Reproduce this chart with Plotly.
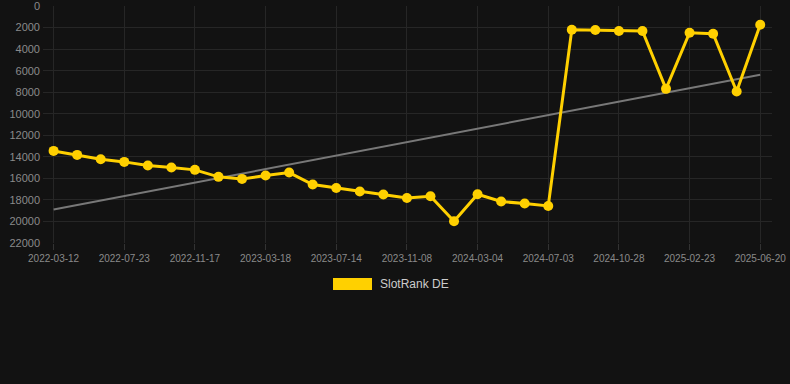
import numpy as np
import plotly.graph_objects as go

dates = [
    "2022-03-12", "2022-04-26", "2022-06-08",
    "2022-07-23", "2022-09-01", "2022-10-09",
    "2022-11-17", "2022-12-28", "2023-02-05",
    "2023-03-18", "2023-04-27", "2023-06-04",
    "2023-07-14", "2023-08-22", "2023-09-30",
    "2023-11-08", "2023-12-17", "2024-01-25",
    "2024-03-04", "2024-04-13", "2024-05-23",
    "2024-07-03", "2024-08-11", "2024-09-19",
    "2024-10-28", "2024-12-06", "2025-01-14",
    "2025-02-23", "2025-04-03", "2025-05-12",
    "2025-06-20",
]
ranks = [
    13450, 13820, 14220, 14470, 14810, 14990, 15210, 15860, 16050, 15740,
    15460, 16570, 16890, 17220, 17500, 17820, 17660, 19980, 17470, 18150,
    18340, 18560, 2200, 2230, 2320, 2320, 7690, 2480, 2570, 7930, 1740,
]
tick_dates = dates[::3]
y_ticks = list(range(0, 22001, 2000))

idx = np.arange(len(ranks))
slope, intercept = np.polyfit(idx, ranks, 1)
trend = slope * idx + intercept

YELLOW = "#FFD000"
fig = go.Figure()
fig.add_trace(go.Scatter(
    x=dates, y=trend, mode="lines",
    line=dict(color="#787878", width=2),
    showlegend=False, hoverinfo="skip",
))
fig.add_trace(go.Scatter(
    x=dates, y=ranks, mode="lines+markers", name="SlotRank DE",
    line=dict(color=YELLOW, width=3),
    marker=dict(color=YELLOW, size=10),
    showlegend=False,
))

PW = 790 - 43 - 18
fig.update_layout(
    width=790, height=384,
    paper_bgcolor="#121212", plot_bgcolor="#121212",
    margin=dict(l=43, r=18, t=6, b=141),
    font=dict(family="Liberation Sans, Arial, sans-serif", size=11, color="#8a8a8a"),
    xaxis=dict(
        type="category", range=[-0.45, 30.5], automargin=False,
        tickmode="array", tickvals=tick_dates, ticktext=tick_dates,
        showgrid=True, gridcolor="#262626", gridwidth=1,
        ticks="outside", ticklen=6, tickcolor="#333333",
        showline=False, zeroline=False,
        tickfont=dict(size=10, color="#8a8a8a"),
        ticklabeloverflow="allow",
    ),
    yaxis=dict(
        range=[22000, -3], tickmode="array", tickvals=y_ticks, automargin=False,
        ticktext=[str(v) for v in y_ticks],
        showgrid=True, gridcolor="#262626", gridwidth=1,
        zeroline=False, showline=False,
        tickfont=dict(size=11, color="#8a8a8a"),
        ticklabelstandoff=2,
        ticklabeloverflow="allow",
    ),
    shapes=[dict(
        type="rect", xref="paper", yref="paper",
        x0=(333 - 43) / PW, x1=(372 - 43) / PW,
        y0=-(278 - 243) / 237, y1=-(290 - 243) / 237,
        fillcolor=YELLOW, line=dict(width=0),
    )],
    annotations=[dict(
        text="SlotRank DE", xref="paper", yref="paper",
        x=(378 - 43) / PW, y=-(284 - 243) / 237,
        xanchor="left", yanchor="middle", showarrow=False,
        font=dict(size=12, color="#cccccc"),
    )],
)

fig.write_html(
    "out.html",
    config={"displayModeBar": False},
    post_script="document.body.style.margin='0';document.body.style.background='#121212';",
)
